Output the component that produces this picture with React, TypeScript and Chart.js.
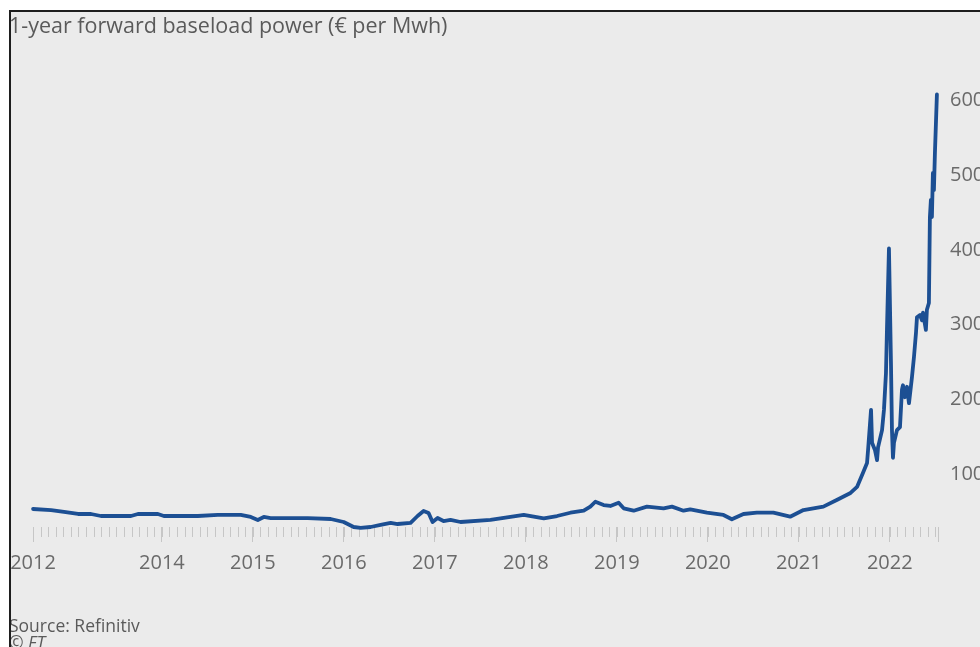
import React, { useEffect, useRef } from "react";
import { Chart, registerables } from "chart.js";

Chart.register(...registerables);

const W = 980;
const H = 647;
const FONT = '"Open Sans", "Noto Sans", sans-serif';
const LINE_BLUE = "#1c4f93";
const TEXT_GREY = "#6a6a6a";
const TICK_GREY = "#c6c6c6";

// 1-year forward baseload power, € per MWh (decimal year, price)
const years = [
  2012.584, 2012.782, 2012.924, 2013.078, 2013.221, 2013.33, 2013.66, 2013.737,
  2013.956, 2014.022, 2014.395, 2014.615, 2014.867, 2014.977, 2015.054, 2015.12,
  2015.196, 2015.493, 2015.603, 2015.855, 2015.998, 2016.108, 2016.184, 2016.294,
  2016.404, 2016.514, 2016.591, 2016.733, 2016.81, 2016.876, 2016.931, 2016.975,
  2017.03, 2017.095, 2017.172, 2017.282, 2017.611, 2017.977, 2018.087, 2018.197,
  2018.343, 2018.49, 2018.636, 2018.709, 2018.764, 2018.855, 2018.929, 2019.02,
  2019.075, 2019.185, 2019.331, 2019.514, 2019.606, 2019.733, 2019.807, 2019.99,
  2020.172, 2020.264, 2020.392, 2020.539, 2020.721, 2020.905, 2021.051, 2021.27,
  2021.417, 2021.563, 2021.64, 2021.706, 2021.75, 2021.761, 2021.794, 2021.805,
  2021.838, 2021.86, 2021.871, 2021.915, 2021.936, 2021.958, 2021.969, 2021.991,
  2022.013, 2022.024, 2022.035, 2022.046, 2022.079, 2022.112, 2022.134, 2022.145,
  2022.167, 2022.189, 2022.211, 2022.244, 2022.266, 2022.288, 2022.299, 2022.332,
  2022.354, 2022.365, 2022.397, 2022.408, 2022.43, 2022.441, 2022.452, 2022.463,
  2022.474, 2022.485, 2022.496, 2022.518,
];

const prices = [
  53.5, 52.1, 49.5, 46.8, 46.8, 44.1, 44.1, 46.8,
  46.8, 44.1, 44.1, 45.5, 45.5, 42.8, 38.8, 42.8,
  41.4, 41.4, 41.4, 40.1, 36.1, 29.4, 28.1, 29.4,
  32.1, 34.8, 33.4, 34.8, 44.1, 50.8, 48.1, 36.1,
  41.4, 37.4, 38.8, 36.1, 38.8, 45.5, 43.2, 41.0,
  44.1, 48.5, 51.2, 56.6, 63.2, 58.8, 57.5, 61.9,
  54.4, 51.2, 56.6, 54.4, 56.6, 51.2, 53.1, 48.5,
  45.5, 39.7, 46.8, 48.5, 48.5, 43.2, 52.1, 56.6,
  65.5, 74.5, 83, 102, 115, 132, 186, 142,
  132, 119, 136, 159, 186, 235, 293, 402,
  249, 159, 122, 142, 159, 163, 213, 219,
  203, 217, 195, 230, 257, 289, 310, 313,
  306, 316, 293, 320, 329, 444, 467, 444,
  503, 480, 529, 608,
];

// Axis setup
const yTickValues = [100, 200, 300, 400, 500, 600];
const yMin = 29.4;
const yMax = 630;
const xStart = 2012 + 7 / 12;
const xEnd = 2022.53;
const yearTickValues = [2014, 2015, 2016, 2017, 2018, 2019, 2020, 2021, 2022];
const startLabel = "2012";

// Small monthly tick marks along the time axis, drawn beneath the line
const monthlyTicks = {
  id: "monthlyTicks",
  beforeDatasetsDraw(chart: any) {
    const x = chart.scales.x;
    const ctx = chart.ctx;
    const top = chart.chartArea.bottom;
    ctx.save();
    ctx.strokeStyle = TICK_GREY;
    ctx.lineWidth = 1;
    ctx.beginPath();
    for (let m = 1; ; m++) {
      const v = xStart + m / 12;
      if (v > xEnd - 0.01) break;
      const px = Math.round(x.getPixelForValue(v)) + 0.5;
      ctx.moveTo(px, top);
      ctx.lineTo(px, top + 10);
    }
    ctx.stroke();
    ctx.restore();
  },
};

export default function App() {
  const canvasRef = useRef<HTMLCanvasElement>(null);

  useEffect(() => {
    const canvas = canvasRef.current;
    if (!canvas) return;
    const points = years.map((yr, i) => ({ x: yr, y: prices[i] }));

    const chart = new Chart(canvas, {
      type: "line",
      data: {
        datasets: [
          {
            data: points,
            borderColor: LINE_BLUE,
            borderWidth: 3.8,
            borderJoinStyle: "round",
            borderCapStyle: "round",
            pointRadius: 0,
            tension: 0,
            fill: false,
            clip: false as any,
          },
        ],
      },
      options: {
        responsive: false,
        animation: false,
        devicePixelRatio: 1,
        layout: { padding: { left: 33, top: 78, right: 0, bottom: 73 } },
        plugins: {
          legend: { display: false },
          tooltip: { enabled: false },
          title: { display: false },
        },
        scales: {
          x: {
            type: "linear",
            min: xStart,
            max: xEnd,
            afterBuildTicks: (scale: any) => {
              scale.ticks = [
                { value: xStart },
                ...yearTickValues.map((v) => ({ value: v })),
                { value: xEnd },
              ];
            },
            afterFit: (scale: any) => {
              scale.height = 47;
            },
            border: { display: false },
            grid: {
              display: true,
              drawOnChartArea: false,
              drawTicks: true,
              tickLength: 15,
              tickColor: TICK_GREY,
              lineWidth: 1,
            },
            ticks: {
              autoSkip: false,
              maxRotation: 0,
              padding: 9,
              color: TEXT_GREY,
              font: { family: FONT, size: 20 },
              callback: (value: any) => {
                const v = Number(value);
                if (v === xStart) return startLabel;
                if (v === xEnd) return "";
                return String(Math.round(v));
              },
            },
          },
          y: {
            type: "linear",
            position: "right",
            min: yMin,
            max: yMax,
            afterBuildTicks: (scale: any) => {
              scale.ticks = yTickValues.map((v) => ({ value: v }));
            },
            afterFit: (scale: any) => {
              scale.width = 42;
            },
            border: { display: false },
            grid: { display: false, drawTicks: false },
            ticks: {
              padding: 12,
              crossAlign: "near",
              color: TEXT_GREY,
              font: { family: FONT, size: 20 },
              callback: (value: any) => String(value),
            },
          },
        },
      },
      plugins: [monthlyTicks],
    });

    return () => chart.destroy();
  }, []);

  return (
    <div
      style={{
        position: "fixed",
        left: 0,
        top: 0,
        width: W,
        height: H,
        background: "#ffffff",
        overflow: "hidden",
      }}
    >
      <div
        style={{
          position: "absolute",
          left: 9,
          top: 10,
          right: 0,
          bottom: 0,
          background: "#ebebeb",
        }}
      />
      <canvas
        ref={canvasRef}
        width={W}
        height={H}
        style={{ position: "absolute", left: 0, top: 0, width: W, height: H }}
      />
      <div
        style={{
          position: "absolute",
          left: 9,
          top: 12,
          fontFamily: FONT,
          fontSize: 21.5,
          lineHeight: "26px",
          color: "#5a5a5a",
          whiteSpace: "nowrap",
        }}
      >
        1-year forward baseload power (€ per Mwh)
      </div>
      <div
        style={{
          position: "absolute",
          left: 9,
          top: 615,
          fontFamily: FONT,
          fontSize: 17.5,
          lineHeight: "20px",
          color: "#5a5a5a",
          whiteSpace: "nowrap",
        }}
      >
        Source: Refinitiv
      </div>
      <div
        style={{
          position: "absolute",
          left: 9,
          top: 632,
          fontFamily: FONT,
          fontSize: 17.5,
          fontStyle: "italic",
          lineHeight: "20px",
          color: "#5a5a5a",
          whiteSpace: "nowrap",
        }}
      >
        © FT
      </div>
      {/* frame edges */}
      <div style={{ position: "absolute", left: 0, top: 0, width: 9, height: H, background: "#ffffff" }} />
      <div style={{ position: "absolute", left: 0, top: 0, width: W, height: 10, background: "#ffffff" }} />
      <div style={{ position: "absolute", left: 9, top: 10, width: 2, height: H, background: "#1e1e1e" }} />
      <div style={{ position: "absolute", left: 9, top: 10, width: W, height: 2, background: "#1e1e1e" }} />
    </div>
  );
}
